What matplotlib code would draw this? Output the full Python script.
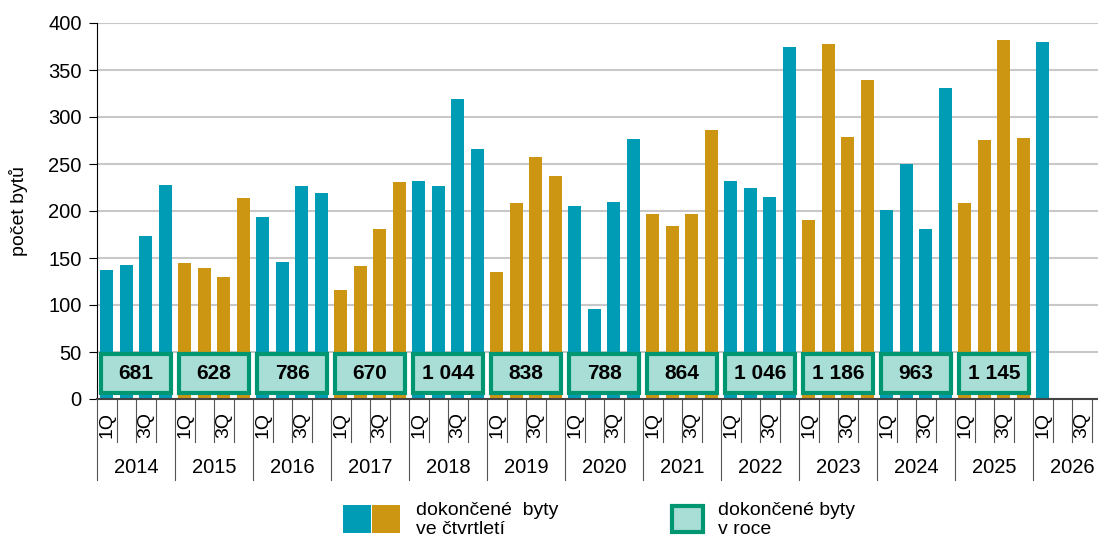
import matplotlib.pyplot as plt
import matplotlib.transforms as mtransforms
from matplotlib.patches import Rectangle

plt.rcParams['font.family'] = ['Liberation Sans', 'DejaVu Sans']

years = [2014, 2015, 2016, 2017, 2018, 2019, 2020, 2021, 2022, 2023, 2024, 2025, 2026]
quarterly = [
    [137, 143, 173, 228],
    [145, 139, 130, 214],
    [194, 146, 227, 219],
    [116, 142, 181, 231],
    [232, 227, 319, 266],
    [135, 209, 257, 237],
    [205, 96, 210, 277],
    [197, 184, 197, 286],
    [232, 224, 215, 375],
    [190, 378, 279, 339],
    [201, 250, 181, 331],
    [209, 276, 382, 278],
    [380, None, None, None],
]
annual = [681, 628, 786, 670, 1044, 838, 788, 864, 1046, 1186, 963, 1145]
quarter_labels = ['1Q', '', '3Q', '']

teal = '#009cb5'
gold = '#cc9512'
box_face = '#a8ded5'
box_edge = '#009672'

fig = plt.figure(figsize=(10.98, 5.41), dpi=100)
# the last year runs past the right edge of the figure, as in the source
ax = fig.add_axes([97 / 1098, 1 - 399 / 541, 1014 / 1098, 376 / 541])

# quarterly bars
for i, yr in enumerate(years):
    col = teal if yr % 2 == 0 else gold
    for q, v in enumerate(quarterly[i]):
        if v is None:
            continue
        ax.bar(4 * i + q, v, width=0.65, color=col, zorder=2)

# annual totals boxes
for i, tot in enumerate(annual):
    x0 = 4 * i - 0.5 + 0.2
    ax.add_patch(Rectangle((x0, 6), 4 - 0.4, 42, facecolor=box_face,
                           edgecolor=box_edge, lw=3, zorder=3))
    ax.text(4 * i + 1.5, 27, f'{tot:,}'.replace(',', ' '), ha='center', va='center',
            fontsize=15, fontweight='bold', zorder=4)

ax.set_xlim(-0.5, 4 * len(years) - 0.5)
ax.set_ylim(0, 400)
ax.set_yticks(range(0, 401, 50))
ax.tick_params(axis='y', labelsize=14.5, length=6, pad=5, direction='out')
ax.set_xticks([])
ax.grid(axis='y', color='#c8c8c8', lw=1.5)
ax.set_axisbelow(True)
for s in ['top', 'right']:
    ax.spines[s].set_visible(False)
ax.spines['bottom'].set_color('#444444')
ax.spines['bottom'].set_linewidth(1.5)
ax.set_ylabel('počet bytů', fontsize=14)
ax.yaxis.set_label_coords(-0.068, 0.5)

# category axis: quarter labels, separators, years
trans = mtransforms.blended_transform_factory(ax.transData, ax.transAxes)
n = 4 * len(years)
for k in range(n):
    lab = quarter_labels[k % 4]
    if lab:
        ax.text(k, -0.069, lab, rotation=90, ha='center', va='center',
                fontsize=14, transform=trans)
for k in range(n + 1):
    bottom = -0.215 if k % 4 == 0 else -0.114
    ax.plot([k - 0.5, k - 0.5], [0, bottom], color='#555555', lw=0.8,
            transform=trans, clip_on=False)
for i, yr in enumerate(years):
    ax.text(4 * i + 1.5, -0.181, str(yr), ha='center', va='center',
            fontsize=14.5, transform=trans)

# legend
fig.patches.append(Rectangle((343 / 1098, 1 - 533 / 541), 28 / 1098, 28 / 541,
                             transform=fig.transFigure, facecolor=teal, edgecolor='none'))
fig.patches.append(Rectangle((372 / 1098, 1 - 533 / 541), 28 / 1098, 28 / 541,
                             transform=fig.transFigure, facecolor=gold, edgecolor='none'))
fig.text(416 / 1098, 1 - 520 / 541, 'dokončené  byty\nve čtvrtletí', ha='left', va='center',
         fontsize=14, linespacing=1.15)
fig.patches.append(Rectangle((672 / 1098, 1 - 532 / 541), 31 / 1098, 26 / 541,
                             transform=fig.transFigure, facecolor=box_face,
                             edgecolor=box_edge, lw=3))
fig.text(718 / 1098, 1 - 520 / 541, 'dokončené byty\nv roce', ha='left', va='center',
         fontsize=14, linespacing=1.15)

fig.savefig('out.png', dpi=100)
